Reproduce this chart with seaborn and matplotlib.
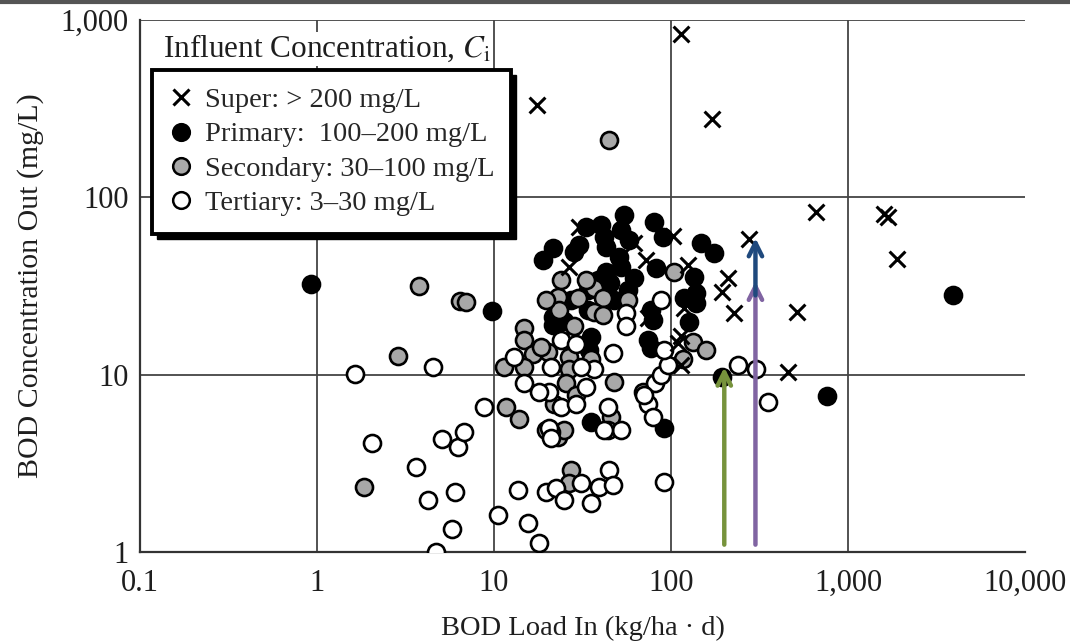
import numpy as np
import pandas as pd
import matplotlib
matplotlib.use("Agg")
import matplotlib.pyplot as plt
import seaborn as sns
from matplotlib.lines import Line2D
from matplotlib.patches import Rectangle
from matplotlib.transforms import IdentityTransform

# ---------------- data ----------------
super_x = [114, 17.5, 171, 659, 1600, 1683, 1900, 276, 515, 458, 30.2, 26.5, 61.8, 72.3,
           103, 125, 210, 194, 227, 118, 114, 114, 110, 74]
super_y = [830, 333, 278, 83, 81, 77, 45, 58.5, 22.7, 10.4, 68.4, 40.6, 55.6, 44.6,
           60.8, 41.7, 35.2, 29.4, 22.4, 23.9, 16.6, 11.4, 15.1, 20.9]

primary_x = [0.93, 9.8, 3900, 761, 91.3, 35.3, 194, 54.2, 52.2, 80.2, 90.1, 82.3,
             148, 175, 135, 138, 138, 126, 33.1, 18.9, 21.5, 28.3, 30.2,
             41.8, 43, 50.8, 52.2, 43, 38.7, 21.5, 21.5, 34, 35.3, 47.6, 57.1,
             77.1, 79.1, 74, 77.1, 34.4, 34, 27.2, 40.2, 57.9, 25, 45, 62, 118]
primary_y = [32.5, 23, 28, 7.6, 5.0, 5.4, 9.7, 79.8, 65.8, 72.9, 60, 40.1,
             55.6, 48.8, 35.7, 29, 25.5, 19.9, 68.4, 44.6, 52, 49.4, 54.1,
             60, 52.7, 46.3, 40.6, 38.1, 34.4, 21.2, 19.1, 23.3, 16.4, 26.5, 30.1,
             23.3, 20.4, 15.7, 14.2, 13.8, 30.1, 26.5, 70.2, 57.7, 20, 33, 35, 27]

secondary_x = [3.77, 6.43, 6.95, 2.87, 1.84, 44.6, 23, 29.8, 36.7, 41.3, 57.1,
               23.3, 28.3, 36.7, 41.3, 14.8, 14.8, 16.6, 20.2, 26.5, 26.5,
               11.4, 14.8, 47.6, 104, 133, 158, 117, 25.5, 21.8, 11.7, 13.8, 23,
               24.9, 27.2, 26.5, 18.4, 69.5, 45.8, 33.1, 23.9, 19.7, 35.3, 29, 19.7, 21]
secondary_y = [31.8, 26.1, 25.8, 12.8, 2.33, 211, 27.5, 27.2, 31, 27.2, 26.5,
               23.3, 18.7, 22.7, 21.8, 18.4, 15.7, 13, 13.5, 12.6, 10.7,
               11.1, 11.1, 9.1, 38.1, 15.3, 13.8, 12.2, 9.0, 6.8, 6.6, 5.6, 4.47,
               4.9, 2.91, 2.46, 14.4, 8.0, 5.8, 34.4, 34.4, 26.5, 12.2, 7.7, 4.9, 4.77]

tertiary_x = [1.64, 4.52, 2.05, 3.62, 4.24, 5.08, 6.26, 6.77, 6.02, 5.79, 4.7,
              8.78, 10.5, 13.7, 15.6, 18, 19.7, 22.4, 24.9, 31, 35.3, 39.2, 44.6, 47, 91.3,
              239, 302, 353, 87.9, 81.2, 74, 79.1, 87.9, 96.2, 47, 91.3, 70.4, 44, 44, 52.2,
              13, 14.8, 21, 20.5, 18, 23.9, 29, 33.1, 36.7, 41.8, 20.5, 21, 55.7, 55.7, 31,
              23.9, 29]
tertiary_y = [10.1, 11.1, 4.13, 3.03, 1.97, 4.35, 3.93, 4.77, 2.19, 1.34, 1.0,
              6.6, 1.62, 2.24, 1.45, 1.13, 2.19, 2.31, 1.97, 2.46, 1.9, 2.33, 2.91, 2.4, 2.49,
              11.4, 10.7, 7.05, 26.5, 9.0, 6.86, 5.8, 10, 11.4, 13.3, 13.8, 7.7, 6.6, 4.9, 4.9,
              12.6, 9.0, 11, 8.0, 8.0, 6.6, 6.8, 8.55, 10.7, 4.9, 5.0, 4.4, 22.4, 18.7, 11,
              15.7, 14.8]

legend_labels = ["Super: > 200 mg/L", "Primary:  100\u2013200 mg/L",
                 "Secondary: 30\u2013100 mg/L", "Tertiary: 3\u201330 mg/L"]
legend_title = "Influent Concentration, $C_\\mathrm{i}$"

xticks = [0.1, 1, 10, 100, 1000, 10000]
xticklabels = ["0.1", "1", "10", "100", "1,000", "10,000"]
yticks = [1, 10, 100, 1000]
yticklabels = ["1", "10", "100", "1,000"]
xlabel = "BOD Load In (kg/ha \u00b7 d)"
ylabel = "BOD Concentration Out (mg/L)"

# arrows (x, start y, end y)
arrow_x = [200, 300, 300]
arrow_y0 = [1.1, 1.1, 28]
arrow_y1 = [11, 33.5, 59]
arrow_colors = ["#77933c", "#8064a2", "#1f497d"]

# ---------------- style ----------------
sns.set_theme(style="white")
plt.rcParams["font.family"] = ["Liberation Serif", "DejaVu Serif"]
plt.rcParams["mathtext.fontset"] = "stix"
txt = "#1e1e1e"

fig = plt.figure(figsize=(10.7, 6.42), dpi=100)
ax = fig.add_axes([140 / 1070, 1 - 552 / 642, 885 / 1070, 532 / 642])
ax.set_xscale("log")
ax.set_yscale("log")
ax.set_xlim(0.1, 10000)
ax.set_ylim(1, 1000)

ms = 150
lw_c = 1.9
sns.scatterplot(x=primary_x, y=primary_y, marker="o", s=ms, color="black",
                edgecolor="black", linewidth=lw_c, ax=ax, zorder=3)
sns.scatterplot(x=secondary_x, y=secondary_y, marker="o", s=ms, color="#a8a8a8",
                edgecolor="black", linewidth=lw_c, ax=ax, zorder=3)
sns.scatterplot(x=tertiary_x, y=tertiary_y, marker="o", s=ms, color="white",
                edgecolor="black", linewidth=lw_c, ax=ax, zorder=3)
sns.scatterplot(x=super_x, y=super_y, marker="x", s=130, color="black",
                linewidth=2.2, ax=ax, zorder=4)

for xa, y0, y1, c in zip(arrow_x, arrow_y0, arrow_y1, arrow_colors):
    ax.annotate("", xy=(xa, y1), xytext=(xa, y0),
                arrowprops=dict(arrowstyle="->,head_length=0.8,head_width=0.4",
                                color=c, lw=3.2, shrinkA=0, shrinkB=0),
                zorder=5)

# axes
ax.set_xticks(xticks)
ax.set_xticklabels(xticklabels)
ax.set_yticks(yticks)
ax.set_yticklabels(yticklabels)
ax.minorticks_on()
ax.tick_params(axis="both", which="major", direction="in", length=9, width=1.3,
               color="#333333", labelsize=22, labelcolor=txt)
ax.tick_params(axis="both", which="minor", direction="in", length=5, width=1.1,
               color="#333333")
ax.tick_params(axis="x", which="major", pad=12)
ax.tick_params(axis="y", which="major", pad=8)
ax.set_xlabel(xlabel, fontsize=20.5, color=txt, labelpad=13)
ax.set_ylabel(ylabel, fontsize=21.5, color=txt, labelpad=12)

for s in ["top", "right"]:
    ax.spines[s].set_visible(False)
for s in ["left", "bottom"]:
    ax.spines[s].set_color("#333333")
    ax.spines[s].set_linewidth(1.6)

ax.grid(True, which="major", color="#444444", linewidth=1.3)
ax.set_axisbelow(True)
for t, loc in zip(ax.xaxis.get_major_ticks(), xticks):
    if loc in (0.1, 10000):
        t.gridline.set_visible(False)
for t, loc in zip(ax.yaxis.get_major_ticks(), yticks):
    if loc == 1:
        t.gridline.set_visible(False)

# legend
handles = [
    Line2D([], [], marker="x", linestyle="none", color="black", markersize=11, markeredgewidth=2.2),
    Line2D([], [], marker="o", linestyle="none", markerfacecolor="black", markeredgecolor="black",
           markersize=12, markeredgewidth=1.8),
    Line2D([], [], marker="o", linestyle="none", markerfacecolor="#a8a8a8", markeredgecolor="black",
           markersize=12, markeredgewidth=1.8),
    Line2D([], [], marker="o", linestyle="none", markerfacecolor="white", markeredgecolor="black",
           markersize=12, markeredgewidth=1.8),
]
leg = ax.legend(handles, legend_labels, loc="upper left", bbox_to_anchor=(0.0136, 0.906),
                frameon=True, fancybox=False, fontsize=20.5, labelspacing=0.3,
                handlelength=0.8, handletextpad=0.45, borderpad=0.6, borderaxespad=0)
leg.get_frame().set_edgecolor("black")
leg.get_frame().set_linewidth(2.8)
leg.get_frame().set_alpha(1)
leg.set_zorder(10)

ax.text(0.026, 0.946, legend_title, transform=ax.transAxes, fontsize=22.5, color=txt,
        ha="left", va="center", zorder=11,
        bbox=dict(facecolor="white", edgecolor="none", pad=1))

# solid shadow behind the legend box
fig.canvas.draw()
bb = leg.get_frame().get_window_extent()
ax.add_patch(Rectangle((bb.x0 + 5, bb.y0 - 5), bb.width, bb.height,
                       transform=IdentityTransform(), facecolor="black",
                       edgecolor="black", zorder=9.5, clip_on=False))

# top border band seen in reference
fig.add_artist(Line2D([0, 1], [0.997, 0.997], transform=fig.transFigure,
                      color="#555555", linewidth=3))

fig.savefig("out.png", dpi=100)
